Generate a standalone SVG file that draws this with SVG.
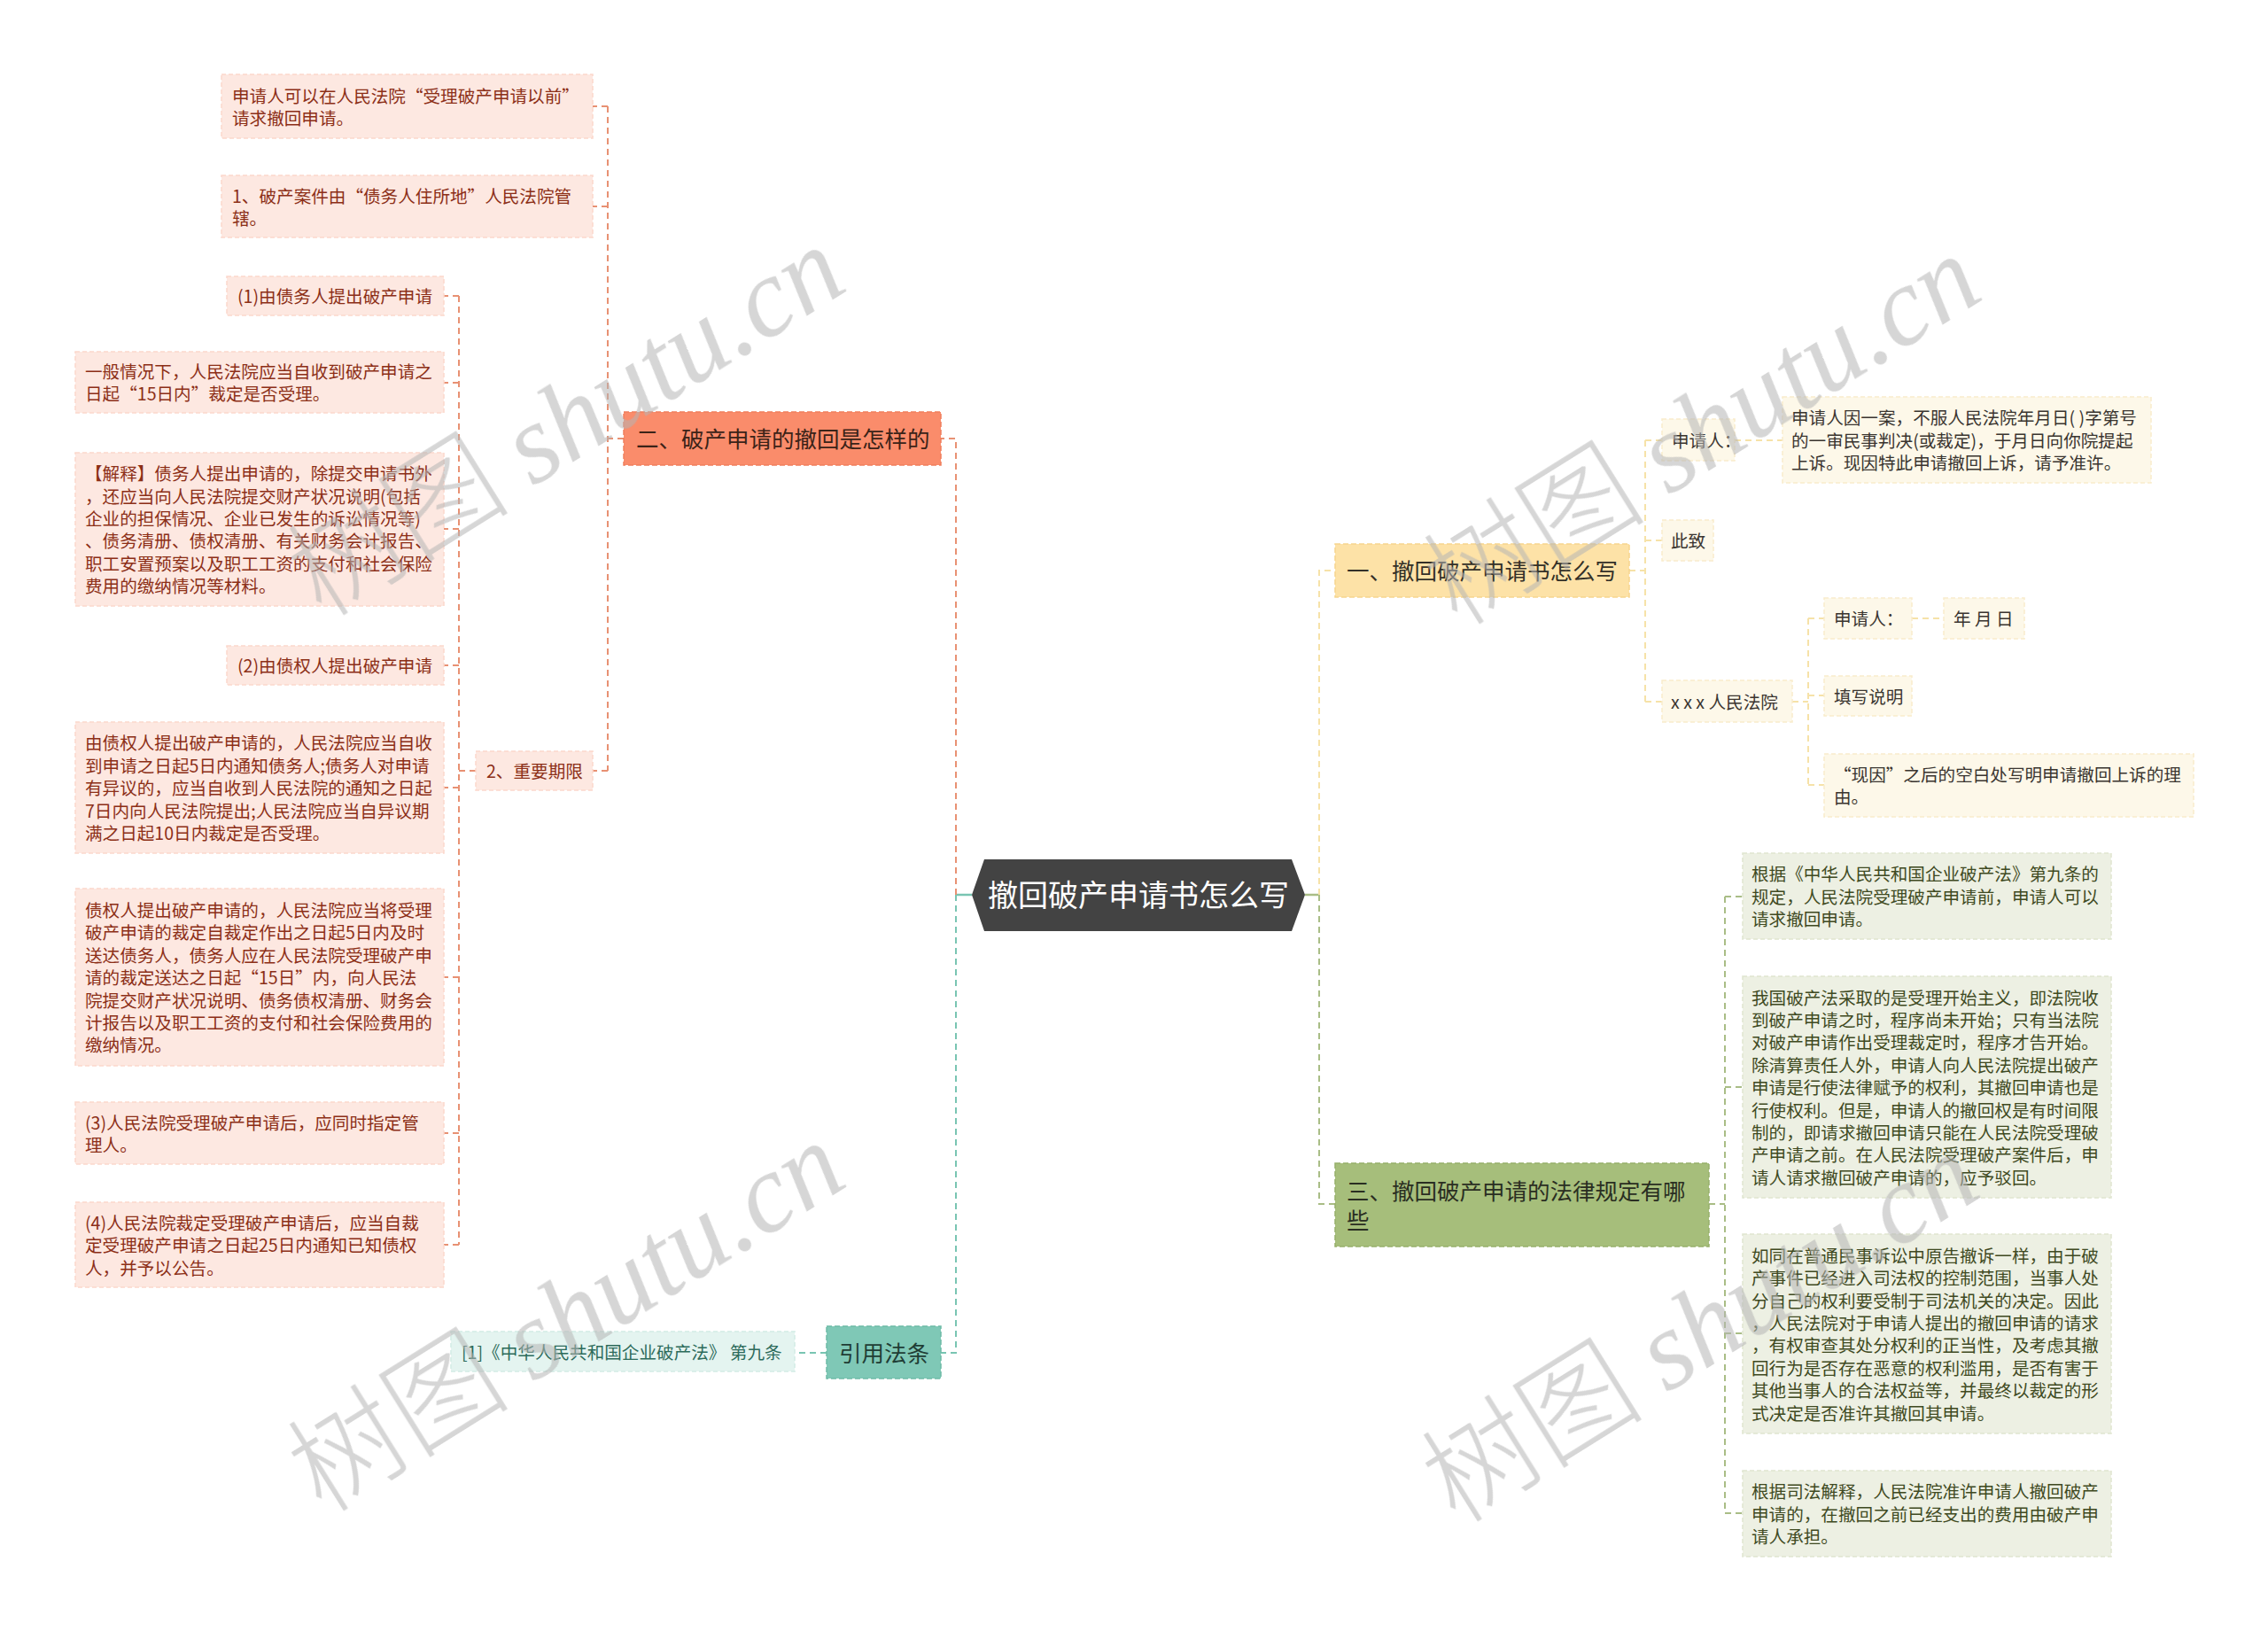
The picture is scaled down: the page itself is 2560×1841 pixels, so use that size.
<svg xmlns="http://www.w3.org/2000/svg" width="2560" height="1841" viewBox="0 0 2560 1841">
<style>
  text { font-family: "Noto Sans CJK SC", "Noto Sans", sans-serif; }
  .t { font-size: 19.6px; }
  .h { font-size: 25.5px; }
  .pink rect { fill: #fde8e1; stroke: #fcd7cb; stroke-width: 1.5; stroke-dasharray: 5 3; }
  .pink text { fill: #8c2f17; }
  .yel rect { fill: #fdf8e9; stroke: #f9eccb; stroke-width: 1.5; stroke-dasharray: 5 3; }
  .yel text { fill: #3a3530; }
  .grn rect { fill: #edf0e3; stroke: #dfe5d0; stroke-width: 1.5; stroke-dasharray: 5 3; }
  .grn text { fill: #3f4a22; }
  .tea rect { fill: #e4f4f0; stroke: #d2ece5; stroke-width: 1.5; stroke-dasharray: 5 3; }
  .tea text { fill: #2d6b5b; }
  .c { fill: none; stroke-width: 2; stroke-dasharray: 7 5; }
  .co { stroke: #e89173; }
  .cy { stroke: #f6e2a8; }
  .cg { stroke: #a9bd86; }
  .ct { stroke: #79c5b2; }
  .wm { fill: #b4b4b4; opacity: 0.55; }
</style>

<g id="connectors">
  <line x1="1079" y1="1010" x2="1097" y2="1010" stroke="#79c5b2" stroke-width="2.5"/>
  <line x1="1473" y1="1010" x2="1489" y2="1010" stroke="#a9bd86" stroke-width="2.5"/>
  <path class="c co" d="M1079,1010 V495 H1062"/>
  <path class="c ct" d="M1079,1010 V1527 H1062"/>
  <path class="c cy" d="M1489,1010 V644 H1507"/>
  <path class="c cg" d="M1489,1010 V1359 H1507"/>
  <path class="c co" d="M704,495 H686"/>
  <path class="c co" d="M686,120 V870"/>
  <path class="c co" d="M686,120 H669"/>
  <path class="c co" d="M686,233 H669"/>
  <path class="c co" d="M686,870 H669"/>
  <path class="c co" d="M537,870 H518"/>
  <path class="c co" d="M518,334 V1405"/>
  <path class="c co" d="M518,334 H501"/>
  <path class="c co" d="M518,432 H501"/>
  <path class="c co" d="M518,597 H501"/>
  <path class="c co" d="M518,751 H501"/>
  <path class="c co" d="M518,889 H501"/>
  <path class="c co" d="M518,1103 H501"/>
  <path class="c co" d="M518,1279 H501"/>
  <path class="c co" d="M518,1405 H501"/>
  <path class="c ct" d="M933,1527 H897"/>
  <path class="c cy" d="M1839,644 H1857"/>
  <path class="c cy" d="M1857,497 V792"/>
  <path class="c cy" d="M1857,497 H1876"/>
  <path class="c cy" d="M1857,610 H1876"/>
  <path class="c cy" d="M1857,792 H1876"/>
  <path class="c cy" d="M1958,497 H2012"/>
  <path class="c cy" d="M2023,792 H2041"/>
  <path class="c cy" d="M2041,698 V886"/>
  <path class="c cy" d="M2041,698 H2059"/>
  <path class="c cy" d="M2041,785 H2059"/>
  <path class="c cy" d="M2041,886 H2059"/>
  <path class="c cy" d="M2158,698 H2194"/>
  <path class="c cg" d="M1929,1359 H1947"/>
  <path class="c cg" d="M1947,1012 V1708"/>
  <path class="c cg" d="M1947,1012 H1967"/>
  <path class="c cg" d="M1947,1227 H1967"/>
  <path class="c cg" d="M1947,1505 H1967"/>
  <path class="c cg" d="M1947,1708 H1967"/>
</g>

<g id="root">
  <polygon points="1097,1010 1111,970 1458,970 1473,1010 1458,1051 1111,1051" fill="#434343"/>
  <text x="1285" y="1023" font-size="34" fill="#ffffff" text-anchor="middle">撤回破产申请书怎么写</text>
</g>

<g id="b2">
  <rect x="704" y="465" width="358" height="60" fill="#fa8c6b" stroke="#ef7f5d" stroke-width="1.5" stroke-dasharray="6 3"/>
  <text class="h" x="718" y="505" fill="#3b2318">二、破产申请的撤回是怎样的</text>
</g>

<g class="pink">
  <g id="n-a"><rect x="250" y="84" width="419" height="72"/>
    <text class="t" x="262" y="115.5">申请人可以在人民法院“受理破产申请以前”</text>
    <text class="t" x="262" y="140.9">请求撤回申请。</text></g>
  <g id="n-b"><rect x="250" y="198" width="419" height="70"/>
    <text class="t" x="262" y="228.5">1、破产案件由“债务人住所地”人民法院管</text>
    <text class="t" x="262" y="253.9">辖。</text></g>
  <g id="n-qx"><rect x="537" y="848" width="132" height="44"/>
    <text class="t" x="549" y="878">2、重要期限</text></g>
  <g id="n-c"><rect x="256" y="312" width="245" height="44"/>
    <text class="t" x="268" y="342">(1)由债务人提出破产申请</text></g>
  <g id="n-d"><rect x="85" y="397" width="416" height="69"/>
    <text class="t" x="96" y="427">一般情况下，人民法院应当自收到破产申请之</text>
    <text class="t" x="96" y="452.4">日起“15日内”裁定是否受理。</text></g>
  <g id="n-e"><rect x="85" y="511" width="416" height="173"/>
    <text class="t" x="96" y="542.2">【解释】债务人提出申请的，除提交申请书外</text>
    <text class="t" x="96" y="567.6">，还应当向人民法院提交财产状况说明(包括</text>
    <text class="t" x="96" y="593">企业的担保情况、企业已发生的诉讼情况等)</text>
    <text class="t" x="96" y="618.4">、债务清册、债权清册、有关财务会计报告、</text>
    <text class="t" x="96" y="643.8">职工安置预案以及职工工资的支付和社会保险</text>
    <text class="t" x="96" y="669.2">费用的缴纳情况等材料。</text></g>
  <g id="n-f"><rect x="256" y="729" width="245" height="44"/>
    <text class="t" x="268" y="759">(2)由债权人提出破产申请</text></g>
  <g id="n-g"><rect x="85" y="815" width="416" height="148"/>
    <text class="t" x="96" y="846.4">由债权人提出破产申请的，人民法院应当自收</text>
    <text class="t" x="96" y="871.8">到申请之日起5日内通知债务人;债务人对申请</text>
    <text class="t" x="96" y="897.2">有异议的，应当自收到人民法院的通知之日起</text>
    <text class="t" x="96" y="922.6">7日内向人民法院提出;人民法院应当自异议期</text>
    <text class="t" x="96" y="948">满之日起10日内裁定是否受理。</text></g>
  <g id="n-h"><rect x="85" y="1003" width="416" height="200"/>
    <text class="t" x="96" y="1035">债权人提出破产申请的，人民法院应当将受理</text>
    <text class="t" x="96" y="1060.4">破产申请的裁定自裁定作出之日起5日内及时</text>
    <text class="t" x="96" y="1085.8">送达债务人，债务人应在人民法院受理破产申</text>
    <text class="t" x="96" y="1111.2">请的裁定送达之日起“15日”内，向人民法</text>
    <text class="t" x="96" y="1136.6">院提交财产状况说明、债务债权清册、财务会</text>
    <text class="t" x="96" y="1162">计报告以及职工工资的支付和社会保险费用的</text>
    <text class="t" x="96" y="1187.4">缴纳情况。</text></g>
  <g id="n-i"><rect x="85" y="1244" width="416" height="70"/>
    <text class="t" x="96" y="1274.5">(3)人民法院受理破产申请后，应同时指定管</text>
    <text class="t" x="96" y="1299.9">理人。</text></g>
  <g id="n-j"><rect x="85" y="1357" width="416" height="96"/>
    <text class="t" x="96" y="1387.8">(4)人民法院裁定受理破产申请后，应当自裁</text>
    <text class="t" x="96" y="1413.2">定受理破产申请之日起25日内通知已知债权</text>
    <text class="t" x="96" y="1438.6">人，并予以公告。</text></g>
</g>

<g id="b-ref">
  <rect x="933" y="1497" width="129" height="59" fill="#7fc8b6" stroke="#6dbba7" stroke-width="1.5" stroke-dasharray="6 3"/>
  <text class="h" x="947" y="1537" fill="#1f3d35">引用法条</text>
</g>
<g class="tea">
  <g id="n-ref"><rect x="509" y="1503" width="388" height="45"/>
    <text class="t" x="521" y="1534">[1]《中华人民共和国企业破产法》 第九条</text></g>
</g>

<g id="b1">
  <rect x="1507" y="614" width="332" height="60" fill="#fde2a7" stroke="#f6d58e" stroke-width="1.5" stroke-dasharray="6 3"/>
  <text class="h" x="1520" y="654" fill="#333028">一、撤回破产申请书怎么写</text>
</g>
<g class="yel">
  <g id="n-sqr"><rect x="1876" y="473" width="82" height="47"/>
    <text class="t" x="1887" y="504.5">申请人：</text></g>
  <g id="n-long"><rect x="2012" y="448" width="416" height="97"/>
    <text class="t" x="2022" y="479.3">申请人因一案，不服人民法院年月日( )字第号</text>
    <text class="t" x="2022" y="504.7">的一审民事判决(或裁定)，于月日向你院提起</text>
    <text class="t" x="2022" y="530.1">上诉。现因特此申请撤回上诉，请予准许。</text></g>
  <g id="n-cz"><rect x="1876" y="587" width="58" height="46"/>
    <text class="t" x="1886" y="618">此致</text></g>
  <g id="n-xxx"><rect x="1876" y="768" width="147" height="47"/>
    <text class="t" x="1886" y="799.5">x x x 人民法院</text></g>
  <g id="n-sqr2"><rect x="2059" y="675" width="99" height="46"/>
    <text class="t" x="2070" y="706">申请人：</text></g>
  <g id="n-nyr"><rect x="2194" y="675" width="91" height="46"/>
    <text class="t" x="2205" y="706">年 月 日</text></g>
  <g id="n-txsm"><rect x="2059" y="763" width="99" height="45"/>
    <text class="t" x="2070" y="793.5">填写说明</text></g>
  <g id="n-xy"><rect x="2059" y="851" width="417" height="71"/>
    <text class="t" x="2070" y="882">“现因”之后的空白处写明申请撤回上诉的理</text>
    <text class="t" x="2070" y="907.4">由。</text></g>
</g>

<g id="b3">
  <rect x="1507" y="1313" width="422" height="94" fill="#a6be7b" stroke="#97b06b" stroke-width="1.5" stroke-dasharray="6 3"/>
  <text class="h" x="1520" y="1353.5" fill="#2a2e22">三、撤回破产申请的法律规定有哪</text>
  <text class="h" x="1520" y="1386.5" fill="#2a2e22">些</text>
</g>
<g class="grn">
  <g id="n-k1"><rect x="1967" y="963" width="416" height="97"/>
    <text class="t" x="1977" y="994.3">根据《中华人民共和国企业破产法》第九条的</text>
    <text class="t" x="1977" y="1019.7">规定，人民法院受理破产申请前，申请人可以</text>
    <text class="t" x="1977" y="1045.1">请求撤回申请。</text></g>
  <g id="n-k2"><rect x="1967" y="1102" width="416" height="250"/>
    <text class="t" x="1977" y="1133.6">我国破产法采取的是受理开始主义，即法院收</text>
    <text class="t" x="1977" y="1159">到破产申请之时，程序尚未开始；只有当法院</text>
    <text class="t" x="1977" y="1184.4">对破产申请作出受理裁定时，程序才告开始。</text>
    <text class="t" x="1977" y="1209.8">除清算责任人外，申请人向人民法院提出破产</text>
    <text class="t" x="1977" y="1235.2">申请是行使法律赋予的权利，其撤回申请也是</text>
    <text class="t" x="1977" y="1260.6">行使权利。但是，申请人的撤回权是有时间限</text>
    <text class="t" x="1977" y="1286">制的，即请求撤回申请只能在人民法院受理破</text>
    <text class="t" x="1977" y="1311.4">产申请之前。在人民法院受理破产案件后，申</text>
    <text class="t" x="1977" y="1336.8">请人请求撤回破产申请的，应予驳回。</text></g>
  <g id="n-k3"><rect x="1967" y="1393" width="416" height="225"/>
    <text class="t" x="1977" y="1424.8">如同在普通民事诉讼中原告撤诉一样，由于破</text>
    <text class="t" x="1977" y="1450.2">产事件已经进入司法权的控制范围，当事人处</text>
    <text class="t" x="1977" y="1475.6">分自己的权利要受制于司法机关的决定。因此</text>
    <text class="t" x="1977" y="1501">，人民法院对于申请人提出的撤回申请的请求</text>
    <text class="t" x="1977" y="1526.4">，有权审查其处分权利的正当性，及考虑其撤</text>
    <text class="t" x="1977" y="1551.8">回行为是否存在恶意的权利滥用，是否有害于</text>
    <text class="t" x="1977" y="1577.2">其他当事人的合法权益等，并最终以裁定的形</text>
    <text class="t" x="1977" y="1602.6">式决定是否准许其撤回其申请。</text></g>
  <g id="n-k4"><rect x="1967" y="1660" width="416" height="97"/>
    <text class="t" x="1977" y="1691.3">根据司法解释，人民法院准许申请人撤回破产</text>
    <text class="t" x="1977" y="1716.7">申请的，在撤回之前已经支出的费用由破产申</text>
    <text class="t" x="1977" y="1742.1">请人承担。</text></g>
</g>

<g id="watermarks" class="wm">
  <text transform="translate(662,512) rotate(-32)" text-anchor="middle" font-size="126"><tspan font-family="Noto Sans CJK SC, sans-serif" font-weight="300">树图 </tspan><tspan font-family="Liberation Serif, serif" font-style="italic">shutu.cn</tspan></text>
  <text transform="translate(662,1523) rotate(-32)" text-anchor="middle" font-size="126"><tspan font-family="Noto Sans CJK SC, sans-serif" font-weight="300">树图 </tspan><tspan font-family="Liberation Serif, serif" font-style="italic">shutu.cn</tspan></text>
  <text transform="translate(1944,522) rotate(-32)" text-anchor="middle" font-size="126"><tspan font-family="Noto Sans CJK SC, sans-serif" font-weight="300">树图 </tspan><tspan font-family="Liberation Serif, serif" font-style="italic">shutu.cn</tspan></text>
  <text transform="translate(1942,1535) rotate(-32)" text-anchor="middle" font-size="126"><tspan font-family="Noto Sans CJK SC, sans-serif" font-weight="300">树图 </tspan><tspan font-family="Liberation Serif, serif" font-style="italic">shutu.cn</tspan></text>
</g>
</svg>
